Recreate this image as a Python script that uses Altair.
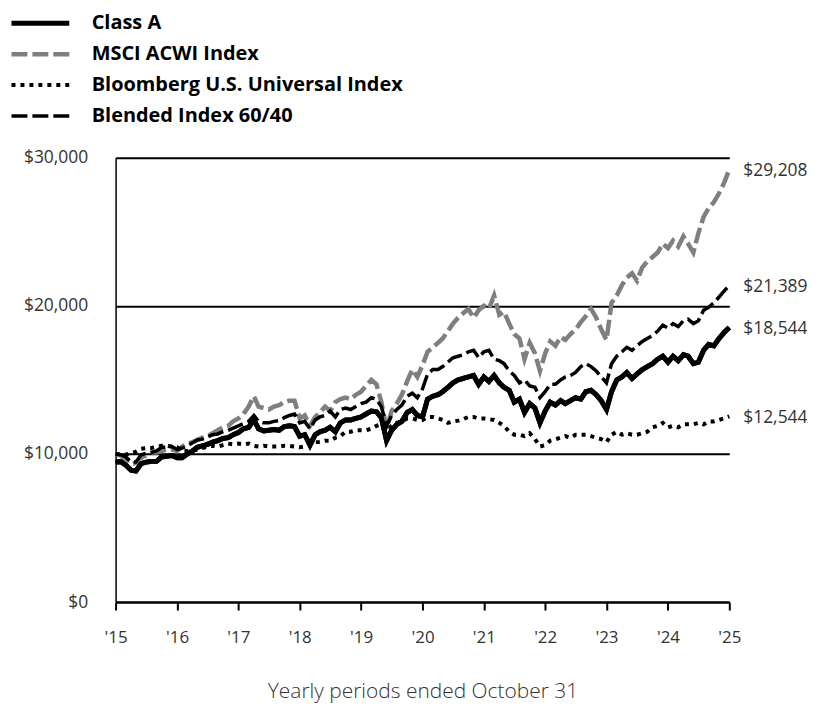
import altair as alt
import pandas as pd

# ---- data (monthly, Oct 2015 .. Oct 2025) ----
series_names = ["Class A", "MSCI ACWI Index", "Bloomberg U.S. Universal Index", "Blended Index 60/40"]

class_a = [9450, 9480, 9250, 8900, 8850, 9350, 9450, 9500, 9500, 9800, 9850, 9900, 9750,
           9750, 10000, 10200, 10450, 10550, 10650, 10800, 10900, 11050, 11100, 11300, 11450,
           11700, 11800, 12300, 11700, 11550, 11600, 11650, 11600, 11850, 11900, 11850, 11200,
           11300, 10600, 11300, 11500, 11600, 11800, 11500, 12100, 12300, 12300, 12400, 12500,
           12700, 12900, 12850, 12450, 10900, 11600, 12000, 12200, 12800, 13000, 12600, 12500,
           13700, 13900, 14000, 14200, 14500, 14800, 15000, 15100, 15200, 15300, 14700, 15200,
           14900, 15300, 14800, 14500, 14300, 13500, 13700, 12800, 13400, 13100, 12100, 12900,
           13500, 13300, 13600, 13400, 13600, 13800, 13700, 14200, 14300, 14000, 13600, 13000,
           14200, 15000, 15200, 15500, 15100, 15400, 15700, 15900, 16100, 16400, 16600, 16200,
           16600, 16300, 16700, 16600, 16100, 16200, 17000, 17400, 17300, 17800, 18200, 18544]

msci = [10000, 9900, 9600, 9300, 9400, 9750, 9900, 10100, 10100, 10200, 10300, 10300, 10200,
        10500, 10700, 10800, 10950, 11100, 11200, 11400, 11600, 11800, 11900, 12200, 12400,
        12700, 13200, 13900, 13200, 13100, 13000, 13200, 13300, 13500, 13600, 13600, 12400,
        12600, 11900, 12500, 12800, 13200, 12900, 13500, 13700, 13800, 13700, 14000, 14200,
        14600, 15000, 14700, 13500, 11700, 12900, 13400, 14000, 14900, 15700, 15200, 16000,
        16900, 17200, 17500, 17800, 18300, 18800, 19200, 19500, 19800, 19200, 19700, 20000,
        19800, 20700, 19400, 19600, 18800, 18100, 17800, 16400, 17500, 16800, 15600, 16800,
        17600, 17300, 17900, 17700, 18100, 18400, 18900, 19300, 19800, 19200, 18400, 17700,
        20200, 20700, 21400, 21900, 22200, 21700, 22600, 23000, 23300, 23600, 24200, 23900,
        24400, 24000, 24700, 24200, 23600, 24900, 26000, 26600, 27000, 27600, 28300, 29208]

bloomberg = [10000, 9980, 9950, 10050, 10150, 10350, 10400, 10400, 10500, 10550, 10550, 10500, 10450,
             10200, 10200, 10250, 10300, 10400, 10500, 10550, 10500, 10600, 10700, 10650, 10700,
             10650, 10700, 10550, 10500, 10550, 10500, 10500, 10500, 10550, 10550, 10500, 10450,
             10500, 10700, 10800, 10800, 10900, 10900, 11100, 11200, 11500, 11500, 11600, 11600,
             11600, 11700, 11900, 12000, 11600, 11900, 12100, 12200, 12400, 12400, 12300, 12300,
             12500, 12500, 12400, 12300, 12100, 12200, 12250, 12350, 12500, 12500, 12400, 12400,
             12350, 12300, 12100, 11900, 11500, 11300, 11300, 11200, 11400, 11000, 10500, 10600,
             10900, 11000, 11100, 11200, 11100, 11300, 11300, 11300, 11200, 11100, 11000, 10800,
             11300, 11500, 11300, 11400, 11300, 11300, 11400, 11500, 11800, 11900, 12100, 11800,
             11900, 11800, 12000, 12000, 12000, 12100, 12000, 12200, 12200, 12300, 12400, 12544]

blended = [10000, 9950, 9800, 9450, 9450, 9950, 10050, 10100, 10200, 10450, 10450, 10500, 10300,
           10400, 10550, 10750, 10950, 11000, 11150, 11300, 11350, 11500, 11600, 11750, 11900,
           12050, 12200, 12600, 12200, 12100, 12100, 12200, 12250, 12450, 12600, 12700, 12100,
           12200, 11700, 12300, 12500, 12600, 12900, 12500, 13000, 13100, 13000, 13200, 13400,
           13500, 13800, 13700, 13200, 11900, 12600, 13000, 13300, 13900, 14100, 13800, 14400,
           15400, 15700, 15700, 15900, 16200, 16500, 16600, 16700, 16900, 17000, 16500, 16900,
           17000, 16400, 16300, 16100, 15600, 15300, 14800, 15000, 14600, 14500, 13800, 14200,
           14700, 14700, 15000, 15200, 15300, 15500, 15900, 16100, 15900, 15600, 15200, 14800,
           16100, 16600, 16900, 17200, 17000, 17300, 17600, 17800, 18000, 18300, 18700, 18500,
           18800, 18600, 19000, 19100, 18800, 19000, 19700, 19900, 20200, 20600, 21000, 21389]

year_ticks = list(range(2015, 2026))
y_ticks = [0, 10000, 20000, 30000]

# ---- build table ----
dates = pd.date_range("2015-10-31", periods=len(class_a), freq="ME").strftime("%Y-%m-%dT00:00:00")
values_by_series = dict(zip(series_names, [class_a, msci, bloomberg, blended]))
rows = []
for name, vals in values_by_series.items():
    for d, v in zip(dates, vals):
        rows.append({"date": d, "series": name, "value": v})
df = pd.DataFrame(rows)
last = df.groupby("series", sort=False).tail(1)

FONT = "Open Sans"

x_enc = alt.X("date:T",
              scale=alt.Scale(domain=[dates[0], dates[-1]], nice=False),
              axis=alt.Axis(values=[alt.DateTime(year=y, month=10, date=31) for y in year_ticks],
                            format="'%y", title="Yearly periods ended October 31",
                            grid=False, domainColor="black", domainWidth=2,
                            tickColor="black", tickWidth=2, tickSize=8,
                            labelFont=FONT, labelFontSize=17, labelColor="#333333",
                            labelPadding=20, labelFlush=False,
                            titleFont=FONT, titleFontSize=21, titleFontWeight=300,
                            titleColor="#333333", titlePadding=35))
y_enc = alt.Y("value:Q",
              scale=alt.Scale(domain=[0, 30000], nice=False),
              axis=alt.Axis(values=y_ticks, format="$,.0f", title=None,
                            grid=True, gridColor="black", gridWidth=2,
                            domainColor="black", domainWidth=1.5,
                            ticks=False, tickSize=0, labelPadding=28,
                            labelFont=FONT, labelFontSize=17.5, labelColor="#333333"))

legend = alt.Legend(orient="none", legendX=-85.5, legendY=-145, title=None,
                    padding=0, symbolType="M-5.8,0H5.8", symbolSize=100,
                    labelOffset=41.5, rowPadding=11,
                    labelFont=FONT, labelFontSize=20, labelFontWeight="bold",
                    labelColor="black", labelLimit=0)

lines = alt.Chart(df).mark_line(strokeCap="butt").encode(
    x=x_enc,
    y=y_enc,
    color=alt.Color("series:N",
                    scale=alt.Scale(domain=series_names,
                                    range=["black", "#7f7f7f", "black", "black"]),
                    legend=legend, sort=series_names),
    strokeDash=alt.StrokeDash("series:N",
                              scale=alt.Scale(domain=series_names,
                                              range=[[1, 0], [16, 5], [4, 5], [16, 5]]),
                              legend=legend, sort=series_names),
    strokeWidth=alt.StrokeWidth("series:N",
                                scale=alt.Scale(domain=series_names,
                                                range=[5, 3.5, 3.5, 3.5]),
                                legend=legend, sort=series_names),
)

top_line = alt.Chart(df[df["series"] == "Class A"]).mark_line(
    color="black", strokeWidth=5, strokeCap="butt").encode(x="date:T", y="value:Q")

labels = alt.Chart(last).mark_text(align="left", baseline="middle", dx=14, dy=2,
                                   font=FONT, fontSize=17.5, color="#333333").encode(
    x="date:T", y="value:Q", text=alt.Text("value:Q", format="$,.0f"))

chart = alt.layer(lines, top_line, labels).properties(
    width=616, height=446,
    padding={"left": 108, "top": 149, "right": 78, "bottom": 104},
    autosize=alt.AutoSizeParams(type="none"),
).configure_view(stroke=None).configure_legend(symbolStrokeColor="black")

chart.save("out.html", embed_options={"renderer": "svg", "actions": False})
